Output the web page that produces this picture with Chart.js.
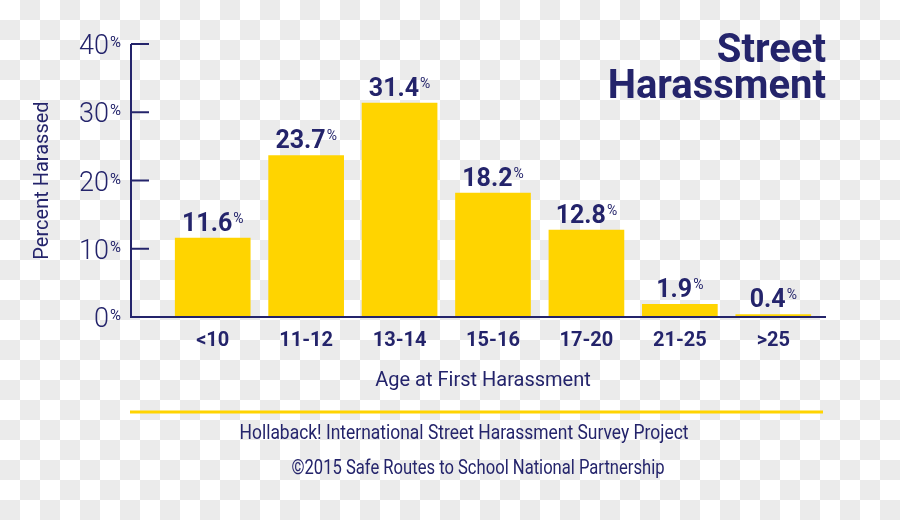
<!DOCTYPE html>
<html>
<head>
<meta charset="utf-8">
<script src="https://cdn.jsdelivr.net/npm/chart.js@4.4.0/dist/chart.umd.min.js"></script>
<style>
html, body { margin: 0; padding: 0; }
body {
    width: 900px; height: 520px;
    background: repeating-conic-gradient(#ebebeb 0 25%, #ffffff 0 50%) 0 0 / 40px 40px;
}
#wrap { position: relative; width: 900px; height: 520px; }
</style>
</head>
<body>
<div id="wrap"><canvas id="chart"></canvas></div>
<script>
const ageGroups = ['<10', '11-12', '13-14', '15-16', '17-20', '21-25', '>25'];
const percentHarassed = [11.6, 23.7, 31.4, 18.2, 12.8, 1.9, 0.4];
const yTicks = [0, 10, 20, 30, 40];
const chartTitle = ['Street', 'Harassment'];
const yTitle = 'Percent Harassed';
const xTitle = 'Age at First Harassment';
const sourceLine = 'Hollaback! International Street Harassment Survey Project';
const creditLine = '\u00A92015 Safe Routes to School National Partnership';

const NAVY = '#24246b';
const GOLD = '#ffd400';

// condensed look: squeeze text horizontally to a given width
function narrowText(ctx, text, cx, cy, width) {
    const w = ctx.measureText(text).width;
    ctx.save();
    ctx.translate(cx, cy);
    ctx.scale(width / w, 1);
    ctx.fillText(text, 0, 0);
    ctx.restore();
}

// axes with inward ticks, % superscripts, value labels, titles and footer
const decor = {
    id: 'decor',
    afterDatasetsDraw(chart) {
        const { ctx, chartArea, scales: { y } } = chart;
        const x0 = chartArea.left - 35;
        const yBase = y.getPixelForValue(0);
        ctx.save();
        ctx.strokeStyle = NAVY;
        ctx.fillStyle = NAVY;
        ctx.lineWidth = 2;
        ctx.beginPath();
        ctx.moveTo(x0, y.getPixelForValue(yTicks[yTicks.length - 1]));
        ctx.lineTo(x0, yBase);
        ctx.lineTo(chartArea.right + 6, yBase);
        ctx.stroke();

        ctx.textBaseline = 'alphabetic';
        yTicks.forEach(v => {
            const py = y.getPixelForValue(v);
            ctx.beginPath();
            ctx.moveTo(x0, py);
            ctx.lineTo(x0 + 18, py);
            ctx.stroke();
            ctx.textAlign = 'right';
            ctx.font = '15px Roboto';
            const pw = ctx.measureText('%').width;
            ctx.fillText('%', x0 - 10, py + 3);
            ctx.font = '300 27px Roboto';
            ctx.fillText(String(v), x0 - 11 - pw, py + 10);
        });

        // value labels above bars
        const meta = chart.getDatasetMeta(0);
        meta.data.forEach((bar, i) => {
            const num = percentHarassed[i].toFixed(1);
            ctx.font = 'bold 25px Roboto';
            const w1 = ctx.measureText(num).width;
            ctx.font = '14px Roboto';
            const w2 = ctx.measureText('%').width;
            const left = bar.x - (w1 + w2 + 1) / 2;
            ctx.textAlign = 'left';
            ctx.font = 'bold 25px Roboto';
            ctx.fillText(num, left, bar.y - 7);
            ctx.font = '14px Roboto';
            ctx.fillText('%', left + w1 + 1, bar.y - 15);
        });

        // y axis title
        ctx.save();
        ctx.translate(43, (chartArea.top + chartArea.bottom) / 2);
        ctx.rotate(-Math.PI / 2);
        ctx.textAlign = 'center';
        ctx.textBaseline = 'middle';
        ctx.font = '20px Roboto';
        ctx.fillText(yTitle, 0, 0);
        ctx.restore();

        // x axis title
        ctx.textAlign = 'center';
        ctx.textBaseline = 'middle';
        ctx.font = '20px Roboto';
        ctx.fillText(xTitle, 483, 381);

        // big title top right
        ctx.textAlign = 'right';
        ctx.textBaseline = 'alphabetic';
        ctx.font = 'bold 40px Roboto';
        ctx.fillText(chartTitle[0], chartArea.right + 6, 62);
        ctx.fillText(chartTitle[1], chartArea.right + 6, 98);

        // footer
        ctx.strokeStyle = GOLD;
        ctx.lineWidth = 3;
        ctx.beginPath();
        ctx.moveTo(130, 412);
        ctx.lineTo(823, 412);
        ctx.stroke();
        ctx.textAlign = 'center';
        ctx.textBaseline = 'middle';
        ctx.font = '20px Roboto';
        narrowText(ctx, sourceLine, 464, 434, 449);
        narrowText(ctx, creditLine, 478, 469, 373);
        ctx.restore();
    }
};

new Chart(document.getElementById('chart'), {
    type: 'bar',
    data: {
        labels: ageGroups,
        datasets: [{
            data: percentHarassed,
            backgroundColor: GOLD,
            barPercentage: 0.81,
            categoryPercentage: 1
        }]
    },
    options: {
        responsive: true,
        maintainAspectRatio: false,
        animation: false,
        layout: { padding: { left: 166, right: 80, top: 44, bottom: 128 } },
        plugins: {
            legend: { display: false },
            tooltip: { enabled: false }
        },
        scales: {
            y: { display: false, min: 0, max: 40 },
            x: {
                grid: { display: false, drawTicks: false },
                border: { display: false },
                ticks: {
                    color: NAVY,
                    font: { family: 'Roboto', size: 20, weight: 'bold' },
                    padding: 12
                },
                afterFit(scale) { scale.height = 75; }
            }
        }
    },
    plugins: [decor]
});
</script>
</body>
</html>
